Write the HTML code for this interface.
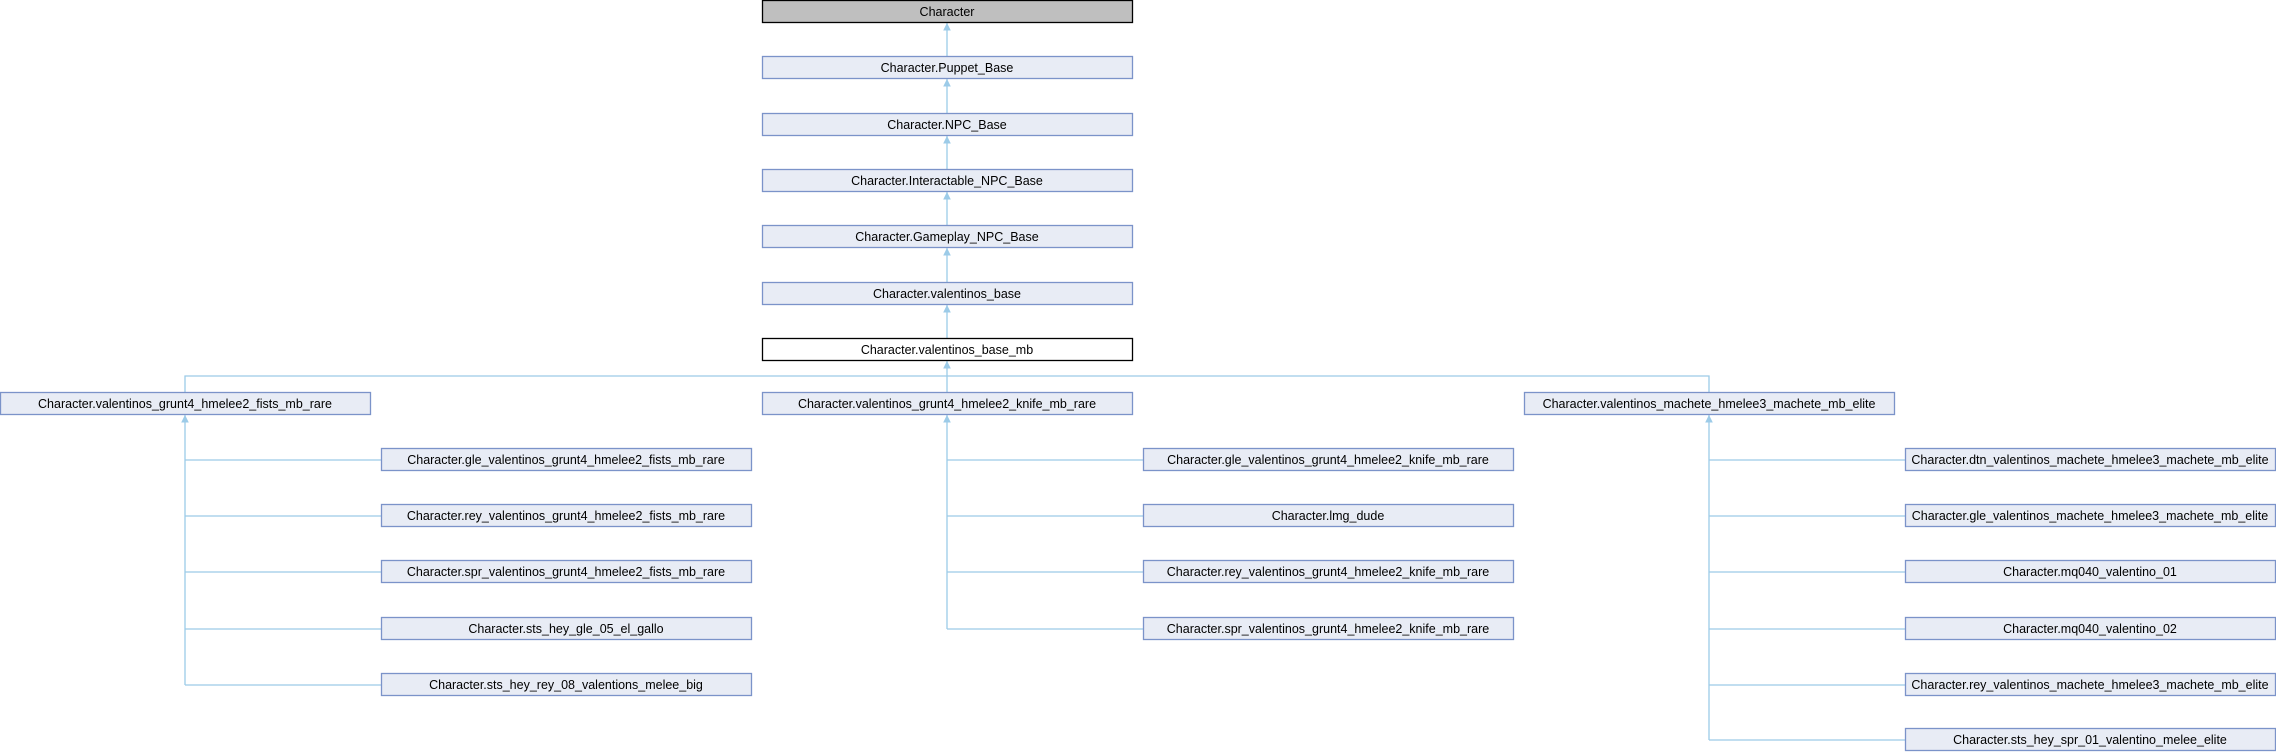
<!DOCTYPE html>
<html><head><meta charset="utf-8"><style>
html,body{margin:0;padding:0;background:#fff;width:2276px;height:752px;overflow:hidden}
svg text{font-family:"Liberation Sans",Arial,sans-serif;font-size:12.5px;fill:#000;text-anchor:middle}
.n{fill:#e8ecf5;stroke:#7b93c9;stroke-width:1.3}
.l{stroke:#9ccbe8;stroke-width:1.3;fill:none}
.a{fill:#9ccbe8;stroke:#9ccbe8}
</style></head><body>
<svg width="2276" height="752" xmlns="http://www.w3.org/2000/svg">
<g class="l">
<line x1="947" y1="23" x2="947" y2="56"/>
<line x1="947" y1="79" x2="947" y2="113"/>
<line x1="947" y1="136" x2="947" y2="169"/>
<line x1="947" y1="192" x2="947" y2="225"/>
<line x1="947" y1="248" x2="947" y2="282"/>
<line x1="947" y1="305" x2="947" y2="338"/>
<line x1="947" y1="361" x2="947" y2="392"/>
<polyline points="185,392 185,376 1709,376 1709,392"/>
<line x1="185" y1="415" x2="185" y2="685"/>
<line x1="185" y1="460" x2="381" y2="460"/>
<line x1="185" y1="516" x2="381" y2="516"/>
<line x1="185" y1="572" x2="381" y2="572"/>
<line x1="185" y1="629" x2="381" y2="629"/>
<line x1="185" y1="685" x2="381" y2="685"/>
<line x1="947" y1="415" x2="947" y2="629"/>
<line x1="947" y1="460" x2="1143" y2="460"/>
<line x1="947" y1="516" x2="1143" y2="516"/>
<line x1="947" y1="572" x2="1143" y2="572"/>
<line x1="947" y1="629" x2="1143" y2="629"/>
<line x1="1709" y1="415" x2="1709" y2="740"/>
<line x1="1709" y1="460" x2="1905" y2="460"/>
<line x1="1709" y1="516" x2="1905" y2="516"/>
<line x1="1709" y1="572" x2="1905" y2="572"/>
<line x1="1709" y1="629" x2="1905" y2="629"/>
<line x1="1709" y1="685" x2="1905" y2="685"/>
<line x1="1709" y1="740" x2="1905" y2="740"/>
</g>
<g class="a">
<polygon points="947,24 944,30 950,30"/>
<polygon points="947,80 944,86 950,86"/>
<polygon points="947,137 944,143 950,143"/>
<polygon points="947,193 944,199 950,199"/>
<polygon points="947,249 944,255 950,255"/>
<polygon points="947,306 944,312 950,312"/>
<polygon points="947,362 944,368 950,368"/>
<polygon points="185,416 182,422 188,422"/>
<polygon points="947,416 944,422 950,422"/>
<polygon points="1709,416 1706,422 1712,422"/>
</g>
<rect x="762.5" y="0.5" width="370" height="22" fill="#bfbfbf" stroke="#000" stroke-width="1.3"/>
<text x="947" y="16">Character</text>
<rect class="n" x="762.5" y="56.5" width="370" height="22"/><text x="947" y="72">Character.Puppet_Base</text>
<rect class="n" x="762.5" y="113.5" width="370" height="22"/><text x="947" y="129">Character.NPC_Base</text>
<rect class="n" x="762.5" y="169.5" width="370" height="22"/><text x="947" y="185">Character.Interactable_NPC_Base</text>
<rect class="n" x="762.5" y="225.5" width="370" height="22"/><text x="947" y="241">Character.Gameplay_NPC_Base</text>
<rect class="n" x="762.5" y="282.5" width="370" height="22"/><text x="947" y="298">Character.valentinos_base</text>
<rect x="762.5" y="338.5" width="370" height="22" fill="#fff" stroke="#000" stroke-width="1.3"/><text x="947" y="354">Character.valentinos_base_mb</text>

<rect class="n" x="0.5" y="392.5" width="370" height="22"/><text x="185" y="408">Character.valentinos_grunt4_hmelee2_fists_mb_rare</text>
<rect class="n" x="762.5" y="392.5" width="370" height="22"/><text x="947" y="408">Character.valentinos_grunt4_hmelee2_knife_mb_rare</text>
<rect class="n" x="1524.5" y="392.5" width="370" height="22"/><text x="1709" y="408">Character.valentinos_machete_hmelee3_machete_mb_elite</text>

<rect class="n" x="381.5" y="448.5" width="370" height="22"/><text x="566" y="464">Character.gle_valentinos_grunt4_hmelee2_fists_mb_rare</text>
<rect class="n" x="381.5" y="504.5" width="370" height="22"/><text x="566" y="520">Character.rey_valentinos_grunt4_hmelee2_fists_mb_rare</text>
<rect class="n" x="381.5" y="560.5" width="370" height="22"/><text x="566" y="576">Character.spr_valentinos_grunt4_hmelee2_fists_mb_rare</text>
<rect class="n" x="381.5" y="617.5" width="370" height="22"/><text x="566" y="633">Character.sts_hey_gle_05_el_gallo</text>
<rect class="n" x="381.5" y="673.5" width="370" height="22"/><text x="566" y="689">Character.sts_hey_rey_08_valentions_melee_big</text>

<rect class="n" x="1143.5" y="448.5" width="370" height="22"/><text x="1328" y="464">Character.gle_valentinos_grunt4_hmelee2_knife_mb_rare</text>
<rect class="n" x="1143.5" y="504.5" width="370" height="22"/><text x="1328" y="520">Character.lmg_dude</text>
<rect class="n" x="1143.5" y="560.5" width="370" height="22"/><text x="1328" y="576">Character.rey_valentinos_grunt4_hmelee2_knife_mb_rare</text>
<rect class="n" x="1143.5" y="617.5" width="370" height="22"/><text x="1328" y="633">Character.spr_valentinos_grunt4_hmelee2_knife_mb_rare</text>

<rect class="n" x="1905.5" y="448.5" width="370" height="22"/><text x="2090" y="464">Character.dtn_valentinos_machete_hmelee3_machete_mb_elite</text>
<rect class="n" x="1905.5" y="504.5" width="370" height="22"/><text x="2090" y="520">Character.gle_valentinos_machete_hmelee3_machete_mb_elite</text>
<rect class="n" x="1905.5" y="560.5" width="370" height="22"/><text x="2090" y="576">Character.mq040_valentino_01</text>
<rect class="n" x="1905.5" y="617.5" width="370" height="22"/><text x="2090" y="633">Character.mq040_valentino_02</text>
<rect class="n" x="1905.5" y="673.5" width="370" height="22"/><text x="2090" y="689">Character.rey_valentinos_machete_hmelee3_machete_mb_elite</text>
<rect class="n" x="1905.5" y="728.5" width="370" height="22"/><text x="2090" y="744">Character.sts_hey_spr_01_valentino_melee_elite</text>
</svg>
</body></html>
